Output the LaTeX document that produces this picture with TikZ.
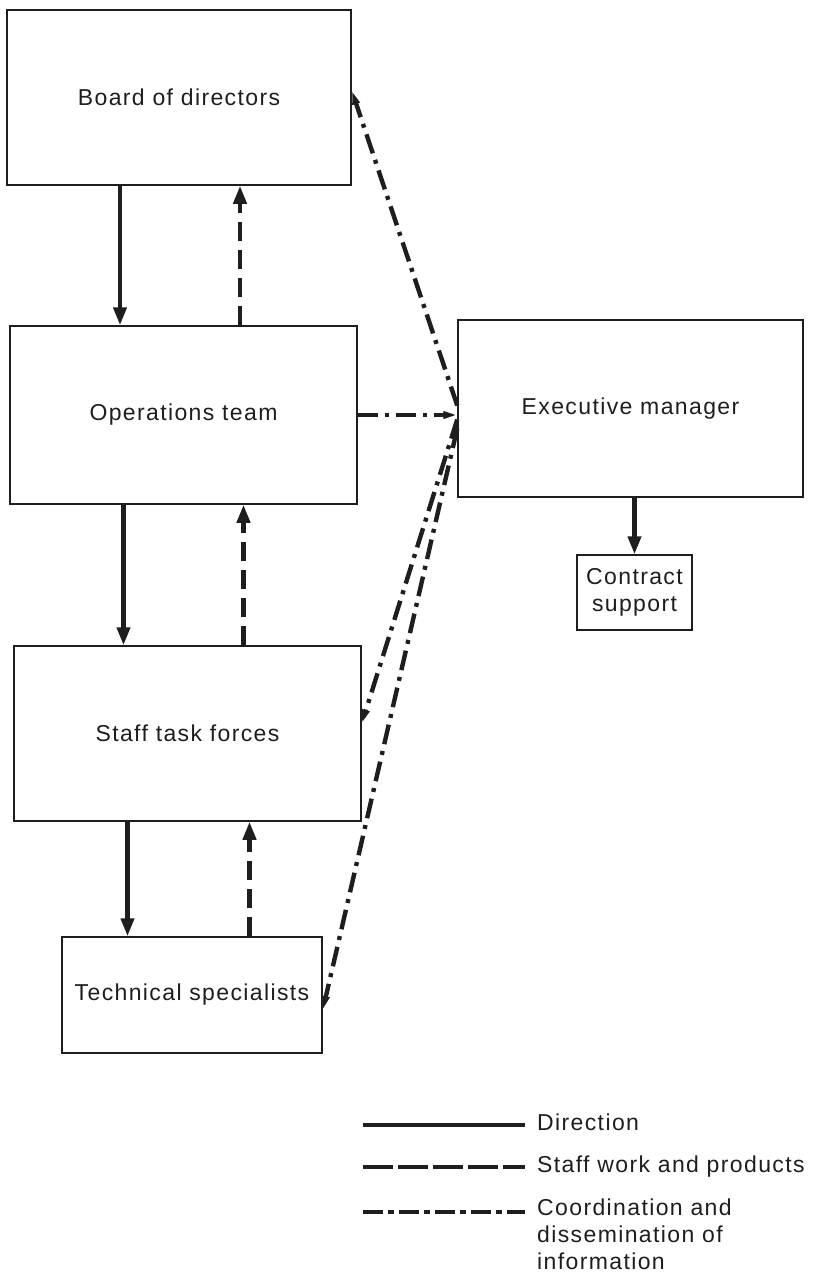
\documentclass[tikz,border=0pt]{standalone}
\usepackage{fontspec}
\setmainfont[LetterSpace=6]{Liberation Sans}
\usetikzlibrary{arrows.meta, calc}
\definecolor{ink}{HTML}{1E1E1E}
\tikzstyle{box} = [draw=ink, line width=1.5pt, align=center, inner sep=0pt, text=ink, font=\fontsize{23}{27}\selectfont]
\tikzstyle{solidln} = [draw=ink, line width=4.2pt]
\tikzstyle{dashln} = [draw=ink, line width=4.2pt, dash pattern=on 19pt off 9pt]
\tikzstyle{dotdashln} = [draw=ink, line width=4.4pt, dash pattern=on 20pt off 7pt on 4pt off 7pt]
\tikzstyle{bigtip} = [-{Triangle[length=18pt,width=13pt]}]
\tikzstyle{smalltip} = [-{Triangle[length=14pt,width=7pt]}]
\tikzstyle{legtext} = [anchor=west, align=left, inner sep=0pt, text=ink, font=\fontsize{23}{27}\selectfont]

\begin{document}
\begin{tikzpicture}[x=1pt, y=-1pt]
        \useasboundingbox (0,0) rectangle (813,1280);

        % Boxes
        \node at (179,97.5) [box, minimum width=344pt, minimum height=175pt] (board) {Board of directors};
        \node at (183.5,415) [box, minimum width=347pt, minimum height=178pt] (ops) {Operations team};
        \node at (187.5,733.5) [box, minimum width=347pt, minimum height=175pt] (staff) {Staff task forces};
        \node at (192,995) [box, minimum width=260pt, minimum height=116pt] (tech) {Technical specialists};
        \node at (630.5,408.5) [box, minimum width=345pt, minimum height=177pt] (exec) {Executive manager};
        \node at (634.5,592.5) [box, minimum width=115pt, minimum height=75pt] (contract) {Contract\\support};

        % Direction (down)
        \draw [solidln, bigtip] ([xshift=-59pt]board.south) -- ([xshift=-59pt]board.south |- ops.north);
        \draw [solidln, bigtip] ([xshift=-60pt]ops.south) -- ([xshift=-60pt]ops.south |- staff.north);
        \draw [solidln, bigtip] ([xshift=-60pt]staff.south) -- ([xshift=-60pt]staff.south |- tech.north);
        \draw [solidln, bigtip] (contract.north |- exec.south) -- (contract.north);

        % Staff work and products (up)
        \draw [dashln, bigtip] ([xshift=61pt]board.south |- ops.north) -- ([xshift=61pt]board.south);
        \draw [dashln, bigtip] ([xshift=60pt]ops.south |- staff.north) -- ([xshift=60pt]ops.south);
        \draw [dashln, bigtip] ([xshift=62pt]staff.south |- tech.north) -- ([xshift=62pt]staff.south);

        % Coordination with the executive manager
        \draw [dotdashln, smalltip] ([yshift=3pt]exec.west) -- ([yshift=7pt]board.east);
        \draw [dotdashln, smalltip] (ops.east) -- (ops.east -| exec.west);
        \draw [dotdashln, smalltip] ([yshift=-11pt]exec.west) -- ([yshift=10pt]staff.east);
        \draw [dotdashln, smalltip] ([yshift=-20pt]exec.west) -- ([yshift=-15pt]tech.east);

        % Legend
        \node at (537,1122) [legtext] (dirtxt) {Direction};
        \node at (537,1167) [legtext] (stafftxt) {Staff work and products};
        \node at (537,1210) [legtext, anchor=north west, yshift=11pt] (coordtxt) {Coordination and\\dissemination of\\information};
        \coordinate (leg1) at (363,1125);
        \coordinate (leg2) at (363,1167);
        \coordinate (leg3) at (363,1212);
        \draw [solidln] (leg1) -- ([xshift=-12pt]dirtxt.west |- leg1);
        \draw [dashln, dash pattern=on 30pt off 5pt] (leg2) -- ([xshift=-12pt]stafftxt.west |- leg2);
        \draw [dotdashln, dash pattern=on 20pt off 5pt on 6pt off 5pt] (leg3) -- ([xshift=-12pt]dirtxt.west |- leg3);

\end{tikzpicture}
\end{document}
